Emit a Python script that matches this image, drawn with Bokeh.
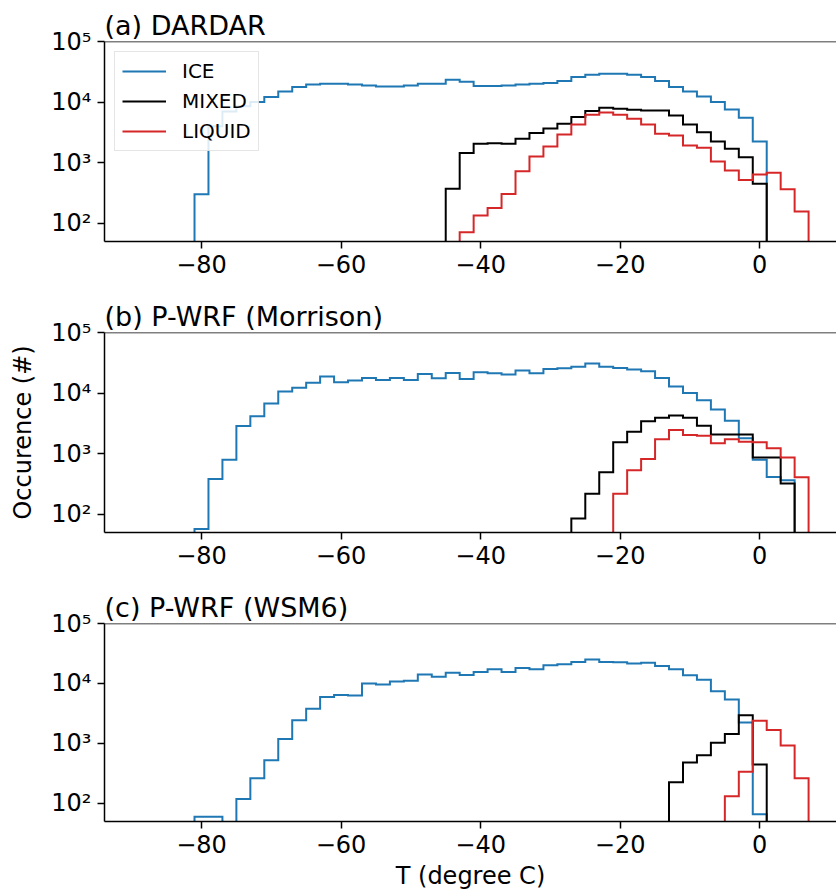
from bokeh.plotting import figure
from bokeh.models import FixedTicker, Span, Legend, LegendItem, Range1d
from bokeh.layouts import column
from bokeh.embed import file_html
from bokeh.resources import INLINE

# Temperature bin edges (degree C), 2-degree bins
bin_edges = [-81, -79, -77, -75, -73, -71, -69, -67, -65, -63, -61, -59, -57, -55,
             -53, -51, -49, -47, -45, -43, -41, -39, -37, -35, -33, -31, -29, -27,
             -25, -23, -21, -19, -17, -15, -13, -11, -9, -7, -5, -3, -1, 1, 3, 5, 7]

# (a) DARDAR
dardar_ice = [300, 4000, 7000, 8500, 10000, 12100, 15000, 17700, 19600, 20100, 20100,
              19600, 18800, 18100, 18100, 18800, 20100, 20100, 23400, 21700, 18400,
              18400, 18800, 19600, 20100, 20600, 22200, 25900, 28300, 29400, 29400,
              28300, 25900, 22200, 17700, 15000, 12400, 10000, 7570, 5510, 2240, 0, 0, 0]
dardar_mixed = [0, 0, 0, 0, 0, 0, 0, 0, 0, 0, 0, 0, 0, 0, 0, 0, 0, 0, 370, 1440,
                2050, 2100, 2050, 2480, 3080, 3670, 4390, 5650, 7100, 8060, 7760, 7470,
                7280, 7280, 6020, 4280, 3190, 2240, 1690, 1230, 450, 0, 0, 0]
dardar_liquid = [0, 0, 0, 0, 0, 0, 0, 0, 0, 0, 0, 0, 0, 0, 0, 0, 0, 0, 0, 71,
                 134, 179, 305, 724, 1265, 1850, 2920, 4280, 6180, 6750, 6180, 5310,
                 4280, 3000, 2810, 1920, 1760, 1045, 741, 520, 637, 679, 365, 156]

# (b) P-WRF (Morrison)
morr_ice = [57, 383, 792, 2850, 4160, 6700, 10600, 12200, 14800, 18700, 15100, 16100,
            17800, 16500, 17800, 16500, 20700, 17600, 21500, 17100, 22000, 21200,
            20200, 23500, 21200, 25000, 25600, 27300, 30900, 27300, 25900, 24400,
            22900, 17800, 12800, 10000, 7590, 5340, 3480, 1790, 792, 413, 364, 0]
morr_mixed = [0, 0, 0, 0, 0, 0, 0, 0, 0, 0, 0, 0, 0, 0, 0, 0, 0, 0, 0, 0, 0, 0, 0, 0,
              0, 0, 0, 85, 218, 492, 1540, 2300, 3440, 3900, 4260, 3900, 2880, 2080,
              2080, 2080, 865, 865, 321, 0]
morr_liquid = [0, 0, 0, 0, 0, 0, 0, 0, 0, 0, 0, 0, 0, 0, 0, 0, 0, 0, 0, 0, 0, 0, 0, 0,
               0, 0, 0, 0, 0, 0, 218, 531, 813, 1730, 2450, 2030, 1980, 1490, 1730,
               1580, 1540, 1230, 865, 408]

# (c) P-WRF (WSM6)
wsm6_ice = [60, 60, 0, 119, 264, 526, 1190, 2440, 3790, 5970, 6440, 6280, 10000, 9630,
            10800, 11100, 14100, 13000, 15100, 13900, 15500, 17200, 15500, 18100,
            17200, 20200, 21000, 22900, 25100, 22900, 22600, 21500, 22100, 19500,
            17200, 13700, 11500, 7400, 5400, 2240, 66, 0, 0, 0]
wsm6_mixed = [0, 0, 0, 0, 0, 0, 0, 0, 0, 0, 0, 0, 0, 0, 0, 0, 0, 0, 0, 0, 0, 0, 0, 0,
              0, 0, 0, 0, 0, 0, 0, 0, 0, 0, 226, 482, 635, 1025, 1440, 2950, 447, 0, 0, 0]
wsm6_liquid = [0, 0, 0, 0, 0, 0, 0, 0, 0, 0, 0, 0, 0, 0, 0, 0, 0, 0, 0, 0, 0, 0, 0, 0,
               0, 0, 0, 0, 0, 0, 0, 0, 0, 0, 0, 0, 0, 0, 132, 339, 2380, 1680, 927, 264]

series_names = ["ICE", "MIXED", "LIQUID"]
series_colors = ["#1f77b4", "black", "#d62728"]
panel_titles = ["(a) DARDAR", "(b) P-WRF (Morrison)", "(c) P-WRF (WSM6)"]
panel_data = [
    [dardar_ice, dardar_mixed, dardar_liquid],
    [morr_ice, morr_mixed, morr_liquid],
    [wsm6_ice, wsm6_mixed, wsm6_liquid],
]
x_ticks = [-80, -60, -40, -20, 0]
y_ticks = [100, 1000, 10000, 100000]
y_tick_labels = {100: "10\u00b2", 1000: "10\u00b3", 10000: "10\u2074", 100000: "10\u2075"}

FLOOR = 1.0  # empty bins drawn below the visible range (like log of zero)
FONT = "DejaVu Sans"


def step_xy(counts):
    xs, ys = [bin_edges[0]], [FLOOR]
    for i, c in enumerate(counts):
        v = c if c > 0 else FLOOR
        xs += [bin_edges[i], bin_edges[i + 1]]
        ys += [v, v]
    xs.append(bin_edges[-1])
    ys.append(FLOOR)
    return xs, ys


tops = [41, 36, 36]
bottoms = [55, 55, 69]
figs = []
for k in range(3):
    p = figure(width=836, height=tops[k] + 200 + bottoms[k],
               x_range=Range1d(-93.9, 11.0), y_range=Range1d(50, 1e5),
               y_axis_type="log", output_backend="svg", toolbar_location=None,
               min_border_left=104, min_border_right=0, min_border_top=tops[k],
               min_border_bottom=bottoms[k])
    p.title.text = panel_titles[k]
    p.title.text_font = FONT
    p.title.text_font_size = "27px"
    p.title.text_font_style = "normal"
    p.title.text_color = "black"
    p.title.align = "left"
    p.title.standoff = 2
    p.xgrid.grid_line_color = None
    p.ygrid.grid_line_color = None
    p.outline_line_color = None
    p.background_fill_color = "white"
    p.border_fill_color = "white"

    for ax in (p.xaxis[0], p.yaxis[0]):
        ax.axis_line_color = "black"
        ax.axis_line_width = 1.5
        ax.major_tick_line_color = "black"
        ax.major_tick_line_width = 1.5
        ax.major_tick_out = 7
        ax.major_tick_in = 0
        ax.minor_tick_line_color = None
        ax.major_label_text_font = FONT
        ax.major_label_text_font_size = "24px"
        ax.major_label_text_color = "black"
        ax.major_label_standoff = 6
        ax.axis_label_text_font = FONT
        ax.axis_label_text_font_size = "24px"
        ax.axis_label_text_font_style = "normal"
        ax.axis_label_text_color = "black"
    p.xaxis.axis_label_standoff = 6
    p.yaxis.axis_label_standoff = 11

    p.xaxis.ticker = FixedTicker(ticks=x_ticks)
    p.xaxis.major_label_overrides = {t: str(t).replace("-", "\u2212") for t in x_ticks}
    p.yaxis.ticker = FixedTicker(ticks=y_ticks)
    p.yaxis.major_label_overrides = y_tick_labels

    p.add_layout(Span(location=1e5, dimension="width", line_color="black", line_width=1.5))

    renderers = []
    for s in range(3):
        xs, ys = step_xy(panel_data[k][s])
        r = p.line(xs, ys, line_color=series_colors[s], line_width=2, line_join="miter")
        renderers.append(r)

    if k == 0:
        legend = Legend(items=[LegendItem(label=series_names[s], renderers=[renderers[s]])
                               for s in range(3)],
                        location="top_left")
        legend.margin = 10
        legend.padding = 7
        legend.spacing = 6
        legend.glyph_width = 44
        legend.glyph_height = 22
        legend.label_standoff = 16
        legend.label_text_font = FONT
        legend.label_text_font_size = "20px"
        legend.label_text_color = "black"
        legend.border_line_color = "#cccccc"
        legend.border_line_width = 1
        legend.background_fill_alpha = 0.85
        p.add_layout(legend)
    if k == 1:
        p.yaxis.axis_label = "Occurence (#)"
    if k == 2:
        p.xaxis.axis_label = "T (degree C)"
    figs.append(p)

layout = column(*figs, spacing=0)
open("out.html", "w").write(file_html(layout, INLINE))
